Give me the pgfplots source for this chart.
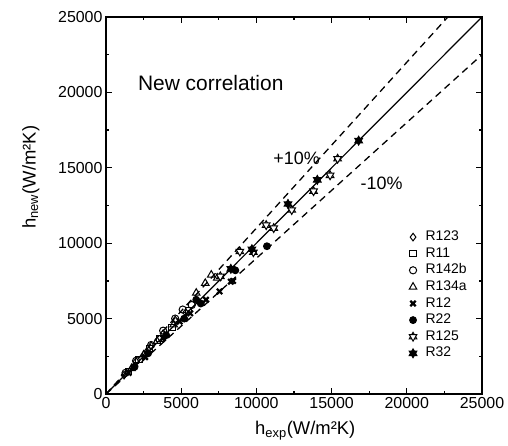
\documentclass[border=0pt]{standalone}
\usepackage{fontspec}
\setmainfont{Liberation Sans}
\usepackage{pgfplots}
\pgfplotsset{compat=1.18}

% six-pointed star (two triangles)
\pgfdeclareplotmark{hexagram}{%
  \pgfpathmoveto{\pgfqpointpolar{90}{\pgfplotmarksize}}%
  \pgfpathlineto{\pgfqpointpolar{210}{\pgfplotmarksize}}%
  \pgfpathlineto{\pgfqpointpolar{330}{\pgfplotmarksize}}%
  \pgfpathclose
  \pgfusepathqfillstroke
  \pgfpathmoveto{\pgfqpointpolar{270}{\pgfplotmarksize}}%
  \pgfpathlineto{\pgfqpointpolar{30}{\pgfplotmarksize}}%
  \pgfpathlineto{\pgfqpointpolar{150}{\pgfplotmarksize}}%
  \pgfpathclose
  \pgfusepathqfillstroke
}

\begin{document}
\begin{tikzpicture}
\begin{axis}[
    width=376bp, height=377bp, scale only axis,
    xmin=0, xmax=25000, ymin=0, ymax=25000,
    xtick={0,5000,...,25000}, ytick={0,5000,...,25000},
    minor x tick num=1, minor y tick num=1,
    tick align=inside, tick pos=both,
    major tick length=6bp, minor tick length=3bp,
    every tick/.style={black, line width=1.3bp},
    axis line style={line width=1.8bp},
    scaled ticks=false,
    /pgf/number format/assume math mode=true,
    /pgf/number format/1000 sep={},
    tick label style={font=\fontsize{16}{16}\selectfont},
    xlabel={h\textsubscript{exp}(W/m²K)},
    ylabel={h\textsubscript{new}(W/m²K)},
    label style={font=\fontsize{18.5}{18.5}\selectfont},
    xlabel style={at={(axis description cs:0.53,-0.098)}, anchor=center},
    ylabel style={at={(axis description cs:-0.2,0.575)}, anchor=center},
    legend cell align=left,
    legend style={draw=none, fill=none, at={(0.798,0.444)}, anchor=north west,
        font=\fontsize{14}{14}\selectfont, row sep=0bp,
        nodes={text height=10bp, text depth=3bp, inner sep=1.8bp},
        /tikz/every odd column/.append style={column sep=7bp}},
    every axis plot/.append style={line width=1bp},
]
% reference lines
\addplot[black, line width=1.2bp, forget plot] coordinates {(0,0)(25000,25000)};
\addplot[black, line width=1.3bp, dash pattern=on 7bp off 5bp, forget plot] coordinates {(0,0)(22727,25000)};
\addplot[black, line width=1.3bp, dash pattern=on 7bp off 5bp, forget plot] coordinates {(0,0)(25000,22500)};

% R123
\addplot[only marks, mark=diamond, mark size=3.8bp] coordinates {
(1200,1250)(2000,2150)(2700,2800)(3000,3200)(3800,4000)(4600,4900)(5300,5400)};
\addlegendentry{R123}
% R11
\addplot[only marks, mark=square, mark size=3.2bp] coordinates {
(1500,1500)(2200,2300)(2900,3000)(3600,3700)(4400,4400)(5500,5500)};
\addlegendentry{R11}
% R142b
\addplot[only marks, mark=o, mark size=3.6bp] coordinates {
(1300,1400)(2000,2200)(3000,3250)(3800,4200)(4600,5000)(5100,5600)(5700,5900)};
\addlegendentry{R142b}
% R134a
\addplot[only marks, mark=triangle, mark size=4.3bp] coordinates {
(1700,1700)(2500,2600)(3400,3500)(4500,4600)(6000,6700)(6600,7350)(7000,7900)(7400,7700)};
\addlegendentry{R134a}
% R12
\addplot[only marks, mark=x, mark size=3.8bp, mark options={line width=2.2bp}] coordinates {
(1500,1400)(2600,2450)(3800,3700)(4900,4800)(5600,5350)(6650,6250)(7550,6800)(8300,7450)(8450,7500)};
\addlegendentry{R12}
% R22
\addplot[only marks, mark=*, mark size=3.4bp] coordinates {
(1900,1800)(2800,2700)(4000,3900)(5200,5000)(6000,6250)(6300,6000)(8600,8200)(10700,9800)};
\addlegendentry{R22}
% R125
\addplot[only marks, mark=hexagram, mark size=4.4bp, mark options={fill=white}] coordinates {
(7600,7800)(8900,9450)(9800,9400)(10650,11200)(11150,11000)(12350,12200)(13800,13450)(14900,14500)(15400,15600)};
\addlegendentry{R125}
% R32
\addplot[only marks, mark=hexagram, mark size=4.4bp, mark options={fill=black}] coordinates {
(8300,8300)(9700,9600)(12100,12600)(14050,14200)(16800,16800)};
\addlegendentry{R32}

\node[anchor=west, font=\fontsize{21}{21}\selectfont] at (axis cs:1900,20600) {New correlation};
\node[anchor=west, font=\fontsize{18}{18}\selectfont] at (axis cs:10900,15650) {+10\%};
\node[anchor=west, font=\fontsize{18}{18}\selectfont] at (axis cs:16700,14000) {-10\%};
\end{axis}
\pgfresetboundingbox
\path[use as bounding box] (-106bp,-52bp) rectangle (402bp,394bp);
\end{tikzpicture}
\end{document}
